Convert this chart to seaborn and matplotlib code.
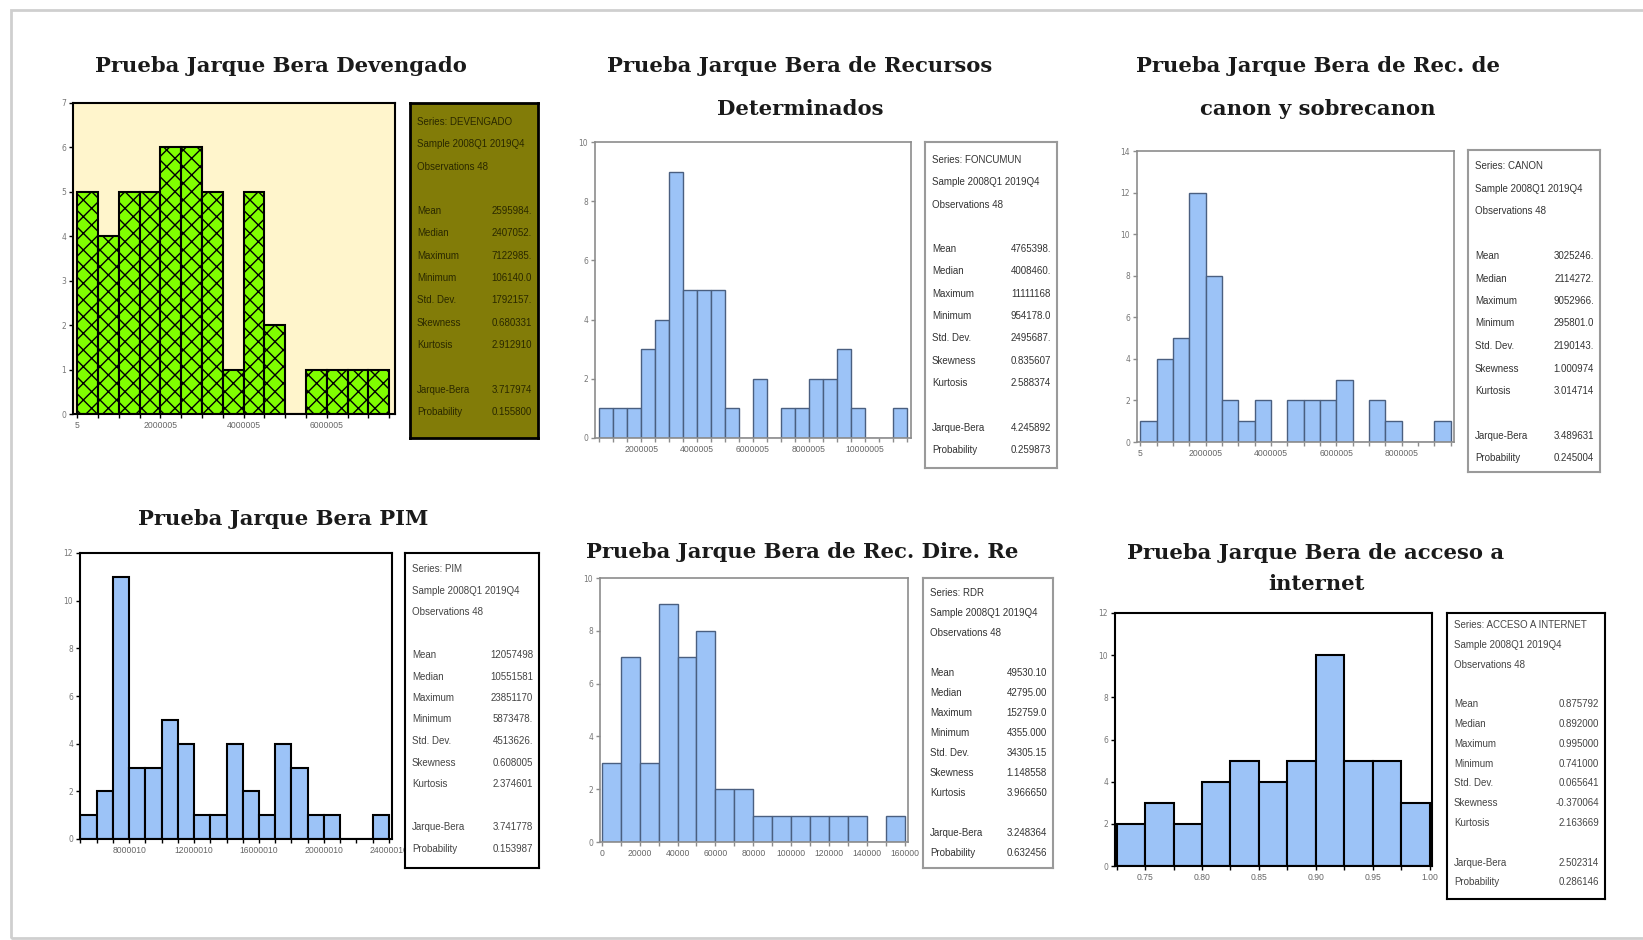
import numpy as np
import pandas as pd
import matplotlib
matplotlib.use("Agg")
import matplotlib.pyplot as plt
from matplotlib import font_manager
import seaborn as sns
from matplotlib.patches import Rectangle

# --- datos ---------------------------------------------------------------
# Devengado
dev_start, dev_width = 0, 500000
dev_counts = [5, 4, 5, 5, 6, 6, 5, 1, 5, 2, 0, 1, 1, 1, 1]
dev_ticks = [5, 2000005, 4000005, 6000005]
dev_stats = [("Series: DEVENGADO", ""), ("Sample 2008Q1 2019Q4", ""), ("Observations 48", ""),
             ("Mean", "2595984."), ("Median", "2407052."), ("Maximum", "7122985."),
             ("Minimum", "106140.0"), ("Std. Dev.", "1792157."), ("Skewness", "0.680331"),
             ("Kurtosis", "2.912910"), ("Jarque-Bera", "3.717974"), ("Probability", "0.155800")]

# Recursos determinados (FONCOMUN)
fon_start, fon_width = 500000, 500000
fon_counts = [1, 1, 1, 3, 4, 9, 5, 5, 5, 1, 0, 2, 0, 1, 1, 2, 2, 3, 1, 0, 0, 1]
fon_ticks = [2000005, 4000005, 6000005, 8000005, 10000005]
fon_stats = [("Series: FONCUMUN", ""), ("Sample 2008Q1 2019Q4", ""), ("Observations 48", ""),
             ("Mean", "4765398."), ("Median", "4008460."), ("Maximum", "11111168"),
             ("Minimum", "954178.0"), ("Std. Dev.", "2495687."), ("Skewness", "0.835607"),
             ("Kurtosis", "2.588374"), ("Jarque-Bera", "4.245892"), ("Probability", "0.259873")]

# Canon y sobrecanon
can_start, can_width = 0, 500000
can_counts = [1, 4, 5, 12, 8, 2, 1, 2, 0, 2, 2, 2, 3, 0, 2, 1, 0, 0, 1]
can_ticks = [5, 2000005, 4000005, 6000005, 8000005]
can_stats = [("Series: CANON", ""), ("Sample 2008Q1 2019Q4", ""), ("Observations 48", ""),
             ("Mean", "3025246."), ("Median", "2114272."), ("Maximum", "9052966."),
             ("Minimum", "295801.0"), ("Std. Dev.", "2190143."), ("Skewness", "1.000974"),
             ("Kurtosis", "3.014714"), ("Jarque-Bera", "3.489631"), ("Probability", "0.245004")]

# PIM
pim_start, pim_width = 5000000, 1000000
pim_counts = [1, 2, 11, 3, 3, 5, 4, 1, 1, 4, 2, 1, 4, 3, 1, 1, 0, 0, 1]
pim_ticks = [8000010, 12000010, 16000010, 20000010, 24000010]
pim_stats = [("Series: PIM", ""), ("Sample 2008Q1 2019Q4", ""), ("Observations 48", ""),
             ("Mean", "12057498"), ("Median", "10551581"), ("Maximum", "23851170"),
             ("Minimum", "5873478."), ("Std. Dev.", "4513626."), ("Skewness", "0.608005"),
             ("Kurtosis", "2.374601"), ("Jarque-Bera", "3.741778"), ("Probability", "0.153987")]

# Rec. directamente recaudados
rdr_start, rdr_width = 0, 10000
rdr_counts = [3, 7, 3, 9, 7, 8, 2, 2, 1, 1, 1, 1, 1, 1, 0, 1]
rdr_ticks = [0, 20000, 40000, 60000, 80000, 100000, 120000, 140000, 160000]
rdr_stats = [("Series: RDR", ""), ("Sample 2008Q1 2019Q4", ""), ("Observations 48", ""),
             ("Mean", "49530.10"), ("Median", "42795.00"), ("Maximum", "152759.0"),
             ("Minimum", "4355.000"), ("Std. Dev.", "34305.15"), ("Skewness", "1.148558"),
             ("Kurtosis", "3.966650"), ("Jarque-Bera", "3.248364"), ("Probability", "0.632456")]

# Acceso a internet
int_start, int_width = 0.725, 0.025
int_counts = [2, 3, 2, 4, 5, 4, 5, 10, 5, 5, 3]
int_ticks = [0.75, 0.80, 0.85, 0.90, 0.95, 1.00]
int_stats = [("Series: ACCESO A INTERNET", ""), ("Sample 2008Q1 2019Q4", ""), ("Observations 48", ""),
             ("Mean", "0.875792"), ("Median", "0.892000"), ("Maximum", "0.995000"),
             ("Minimum", "0.741000"), ("Std. Dev.", "0.065641"), ("Skewness", "-0.370064"),
             ("Kurtosis", "2.163669"), ("Jarque-Bera", "2.502314"), ("Probability", "0.286146")]

W, H = 1643, 940
sns.set_theme(style="white")
plt.rcParams["font.family"] = ["DejaVu Sans"]
plt.rcParams["hatch.linewidth"] = 1.0

# fuente estrecha para los cuadros de estadisticos (si existe)
try:
    font_manager.findfont("Liberation Sans Narrow", fallback_to_default=False)
    box_font, box_size = "Liberation Sans Narrow", 8.2
except ValueError:
    box_font, box_size = "Liberation Sans", 7.0

fig = plt.figure(figsize=(W / 100, H / 100), dpi=100)
fig.patch.set_facecolor("white")

# marco de pagina
fig.add_artist(Rectangle((11 / W, 1 - 938 / H), (W + 20) / W, 928 / H, transform=fig.transFigure,
                         facecolor="none", edgecolor="#cfcfcf", linewidth=2))


def px_axes(l, t, r, b):
    return fig.add_axes([l / W, 1 - b / H, (r - l) / W, (b - t) / H])


def hist_panel(box, counts, start, width, ticks, labels, xlim, ylim, ystep,
               face, bar, edge, lw, spine, hatch=None):
    ax = px_axes(*box)
    edges = start + width * np.arange(len(counts) + 1)
    df = pd.DataFrame({"x": edges[:-1] + width / 2, "n": counts})
    sns.histplot(data=df, x="x", weights="n", bins=edges.tolist(), ax=ax, color=bar,
                 edgecolor=edge, linewidth=lw, alpha=1, hatch=hatch)
    ax.set_facecolor(face)
    ax.set_xlim(*xlim)
    ax.set_ylim(0, ylim)
    ax.set_xticks(ticks)
    ax.set_xticklabels(labels, fontsize=6.2, color="#666666", family="Liberation Sans")
    ax.set_xticks(edges, minor=True)
    yt = np.arange(0, ylim + 0.1, ystep)
    ax.set_yticks(yt)
    ax.set_yticklabels([str(int(v)) for v in yt], fontsize=5.5, color="#777777")
    ax.tick_params(axis="both", which="both", direction="out", length=3, width=1,
                   color=spine, pad=2, bottom=True, left=True)
    ax.set_xlabel("")
    ax.set_ylabel("")
    for s in ax.spines.values():
        s.set_color(spine)
        s.set_linewidth(1.5 if spine == "black" else 1.2)
        s.set_visible(True)
    return ax


def stats_box(box, rows, face, border, txt, first, step, blw):
    ax = px_axes(*box)
    ax.set_facecolor(face)
    ax.set_xticks([])
    ax.set_yticks([])
    for s in ax.spines.values():
        s.set_color(border)
        s.set_linewidth(blw)
        s.set_visible(True)
    l, t, r, b = box
    slots = [0, 1, 2, 4, 5, 6, 7, 8, 9, 10, 12, 13]
    for (lab, val), k in zip(rows, slots):
        yy = 1 - (first + k * step) / (b - t)
        ax.text(7 / (r - l), yy, lab, transform=ax.transAxes, ha="left", va="center",
                fontsize=box_size, family=box_font, color=txt)
        if val:
            ax.text(1 - 6 / (r - l), yy, val, transform=ax.transAxes, ha="right",
                    va="center", fontsize=box_size, family=box_font, color=txt)


blue = "#9cc3f7"

# panel 1
hist_panel((73, 103, 395, 414), dev_counts, dev_start, dev_width, dev_ticks,
           [str(v) for v in dev_ticks], (-0.1e6, 7.64e6), 7, 1,
           "#fff5cc", "#80ff00", "black", 1.5, "black", hatch="xx")
stats_box((410, 103, 538, 438), dev_stats, "#827c08", "black", "#2a2800", 19, 22.3, 2)

# panel 2
hist_panel((595, 142, 911, 438), fon_counts, fon_start, fon_width, fon_ticks,
           [str(v) for v in fon_ticks], (0.35e6, 11.66e6), 10, 2,
           "white", blue, "#4a5f80", 1.0, "#8c8c8c")
stats_box((925, 142, 1057, 468), fon_stats, "white", "#9a9a9a", "#333333", 18, 22.3, 1.5)

# panel 3
hist_panel((1137, 151, 1454, 442), can_counts, can_start, can_width, can_ticks,
           [str(v) for v in can_ticks], (-0.1e6, 9.6e6), 14, 2,
           "white", blue, "#4a5f80", 1.0, "#8c8c8c")
stats_box((1468, 150, 1600, 472), can_stats, "white", "#9a9a9a", "#333333", 16, 22.5, 1.5)

# panel 4
hist_panel((80, 553, 392, 839), pim_counts, pim_start, pim_width, pim_ticks,
           [str(v) for v in pim_ticks], (4.97e6, 24.2e6), 12, 2,
           "white", blue, "black", 1.5, "black")
stats_box((405, 553, 539, 868), pim_stats, "white", "black", "#444444", 16, 21.5, 1.5)

# panel 5
hist_panel((600, 578, 908, 842), rdr_counts, rdr_start, rdr_width, rdr_ticks,
           [str(v) for v in rdr_ticks], (-0.9e3, 161.6e3), 10, 2,
           "white", blue, "#4a5f80", 1.0, "#8c8c8c")
stats_box((923, 578, 1053, 868), rdr_stats, "white", "#9a9a9a", "#333333", 15, 20, 1.5)

# panel 6
hist_panel((1115, 613, 1432, 866), int_counts, int_start, int_width, int_ticks,
           [f"{v:.2f}" for v in int_ticks], (0.7236, 1.002), 12, 2,
           "white", blue, "black", 1.5, "black")
stats_box((1447, 613, 1605, 899), int_stats, "white", "black", "#444444", 12, 19.8, 1.5)

# titulos (una linea por llamada)
title_kw = dict(ha="center", va="center", fontsize=15.2, fontweight="bold",
                family="DejaVu Serif", color="#1a1a1a")
titles = [(281, 66, "Prueba Jarque Bera Devengado"),
          (800, 66, "Prueba Jarque Bera de Recursos"),
          (800, 109, "Determinados"),
          (1318, 66, "Prueba Jarque Bera de Rec. de"),
          (1318, 109, "canon y sobrecanon"),
          (283, 519, "Prueba Jarque Bera PIM"),
          (802, 552, "Prueba Jarque Bera de Rec. Dire. Re"),
          (1316, 553, "Prueba Jarque Bera de acceso a"),
          (1316, 584, "internet")]
for tx, ty, s in titles:
    fig.text(tx / W, 1 - ty / H, s, **title_kw)

fig.savefig("out.png", dpi=100, facecolor="white")
